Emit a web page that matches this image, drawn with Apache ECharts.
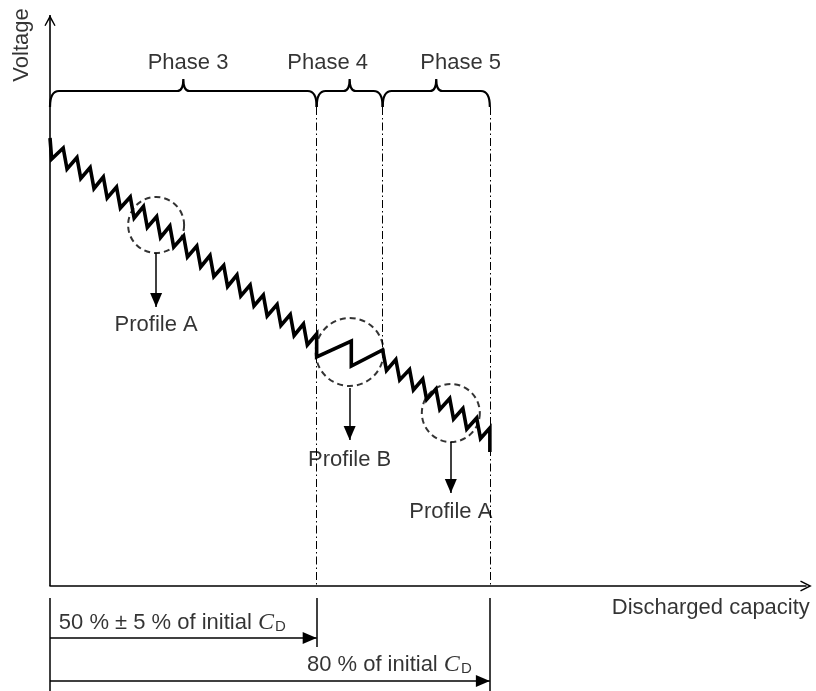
<!DOCTYPE html>
<html>
<head>
<meta charset="utf-8">
<script src="https://cdn.jsdelivr.net/npm/echarts@6/dist/echarts.min.js"></script>
<style>
html, body { margin: 0; padding: 0; background: #fff; }
#chart { width: 816px; height: 691px; }
</style>
</head>
<body>
<div id="chart"></div>
<script>
'use strict';
// x: discharged capacity (% of initial C_D), y: voltage (arbitrary units)
const phaseBounds = [0, 48.5, 60.5, 80];
const phaseNames = ['Phase 3', 'Phase 4', 'Phase 5'];
const phaseLabelX = [25.1, 50.5, 74.7];

const profile = [
    [0.0, 89.6], [0.3, 85.4], [2.4, 87.6], [3.1, 83.4], [4.9, 85.7], [5.6, 81.5],
    [7.3, 83.7], [8.0, 79.5], [9.7, 81.8], [10.4, 77.6], [12.1, 79.8], [12.8, 75.6],
    [14.6, 77.8], [15.3, 73.6], [17.0, 75.9], [17.7, 71.7], [19.4, 73.9], [20.1, 69.7],
    [21.8, 72.0], [22.5, 67.8], [24.3, 70.0], [25.0, 65.8], [26.7, 68.0], [27.4, 63.8],
    [29.1, 66.1], [29.8, 61.9], [31.6, 64.1], [32.3, 59.9], [34.0, 62.2], [34.7, 58.0],
    [36.4, 60.2], [37.1, 56.0], [38.8, 58.2], [39.5, 54.0], [41.3, 56.3], [42.0, 52.1],
    [43.7, 54.3], [44.4, 50.1], [46.1, 52.4], [46.8, 48.2], [48.5, 50.4], [48.5, 45.8],
    // phase 4
    [54.8, 49.0], [54.8, 44.0], [60.5, 47.2],
    // phase 5
    [61.2, 43.1], [62.9, 45.3], [63.6, 41.2], [65.4, 43.3], [66.1, 39.2], [67.8, 41.4],
    [68.5, 37.3], [70.2, 39.4], [70.9, 35.3], [72.7, 37.5], [73.4, 33.4], [75.1, 35.5],
    [75.8, 31.4], [77.6, 33.6], [78.3, 29.5], [80.0, 31.6], [80.0, 26.8]
];

const circleCenters = [[19.3, 72.2], [54.5, 46.8], [72.9, 34.6]];
const profileNames = ['Profile A', 'Profile B', 'Profile A'];
// [x, from, to]
const profileArrows = [[19.3, 66.6, 55.8], [54.5, 39.6, 29.2], [72.9, 28.8, 18.6]];
const profileLabelY = [52.2, 25.2, 14.8];
const capacityTexts = ['50 % \u00b1 5 % of initial {c|C}{d|D}', '80 % of initial {c|C}{d|D}'];

// layout (voltage units)
const X_MAX = 137.5;
const Y_MIN = -21;
const Y_MAX = 114.2;
const BRACE_END = 95.8;
const BRACE_FLAT = 99.0;
const BRACE_TIP = 101.4;
const PHASE_LABEL_Y = 104.6;
const circleSizes = [56, 68, 58];

const FONT = 'Liberation Sans, Arial, sans-serif';
const TRI = 'path://M14,14 L20,28 L8,28 Z M0,0 L0,0 M28,28 L28,28';
const CHEVRON_UP = 'path://M12,12 L17.6,22.4 L16.4,23 L12,15.2 L7.6,23 L6.4,22.4 Z M0,0 L0,0 M24,24 L24,24';
const CHEVRON_AXIS = 'path://M5,0 L10,10 L8.8,10.6 L5,3 L1.2,10.6 L0,10 Z';

function seg(x1, y1, x2, y2) {
    return [{ coord: [x1, y1] }, { coord: [x2, y2] }];
}

function renderBrace(params, api) {
    const x0 = api.value(0);
    const x1 = api.value(1);
    const a = api.coord([x0, BRACE_END]);
    const b = api.coord([x1, BRACE_END]);
    const m = api.coord([(x0 + x1) / 2, BRACE_TIP]);
    const yf = api.coord([x0, BRACE_FLAT])[1];
    const r = 9;
    const t = 6;
    const d = 'M' + a[0] + ',' + a[1] +
        ' Q' + a[0] + ',' + yf + ' ' + (a[0] + r) + ',' + yf +
        ' L' + (m[0] - t) + ',' + yf +
        ' Q' + m[0] + ',' + yf + ' ' + m[0] + ',' + m[1] +
        ' Q' + m[0] + ',' + yf + ' ' + (m[0] + t) + ',' + yf +
        ' L' + (b[0] - r) + ',' + yf +
        ' Q' + b[0] + ',' + yf + ' ' + b[0] + ',' + b[1];
    return {
        type: 'path',
        shape: { pathData: d },
        style: { stroke: '#000', lineWidth: 2.2, fill: 'none' }
    };
}

const notes = [];
function note(text, x, y, align, rotate) {
    notes.push({ name: text, value: [x, y], label: { align: align || 'center', rotate: rotate || 0 } });
}
note('Voltage', -5.1, 108.2, 'center', 90);
phaseNames.forEach((n, i) => note(n, phaseLabelX[i], PHASE_LABEL_Y));
profileNames.forEach((n, i) => note(n, profileArrows[i][0], profileLabelY[i]));
note('Discharged capacity', 138.2, -4.4, 'right');
note(capacityTexts[0], 1.6, -7.4, 'left');
note(capacityTexts[1], 76.7, -15.8, 'right');

const braces = [];
for (let i = 0; i < phaseNames.length; i++) {
    braces.push([phaseBounds[i], phaseBounds[i + 1]]);
}

const chart = echarts.init(document.getElementById('chart'));
chart.setOption({
    animation: false,
    backgroundColor: '#fff',
    grid: { left: 50, right: 10, top: 15, bottom: 0, outerBoundsMode: 'none' },
    xAxis: {
        type: 'value',
        min: 0,
        max: X_MAX,
        axisLine: {
            onZero: true,
            symbol: ['none', CHEVRON_AXIS],
            symbolSize: [11, 12],
            lineStyle: { color: '#000', width: 1.6 }
        },
        axisTick: { show: false },
        axisLabel: { show: false },
        splitLine: { show: false }
    },
    yAxis: {
        type: 'value',
        min: Y_MIN,
        max: Y_MAX,
        axisLine: { show: false },
        axisTick: { show: false },
        axisLabel: { show: false },
        splitLine: { show: false }
    },
    series: [
        {
            // phase boundaries and capacity marks
            type: 'line',
            data: [],
            silent: true,
            markLine: {
                silent: true,
                symbol: 'none',
                label: { show: false },
                lineStyle: { color: '#000', width: 1, type: [8, 3, 1.5, 3] },
                data: [
                    seg(phaseBounds[1], BRACE_END, phaseBounds[1], 0),
                    seg(phaseBounds[2], BRACE_END, phaseBounds[2], 47.2),
                    seg(phaseBounds[3], BRACE_END, phaseBounds[3], 0)
                ]
            }
        },
        {
            type: 'line',
            data: [],
            silent: true,
            markLine: {
                silent: true,
                symbol: 'none',
                label: { show: false },
                lineStyle: { color: '#000', width: 1.5, type: 'solid' },
                data: [
                    seg(0, -2.4, 0, Y_MIN),
                    seg(phaseBounds[1], -2.4, phaseBounds[1], -12.2),
                    seg(phaseBounds[3], -2.4, phaseBounds[3], Y_MIN)
                ]
            }
        },
        {
            // y axis with open arrow
            type: 'line',
            data: [],
            silent: true,
            markLine: {
                silent: true,
                symbol: ['none', CHEVRON_UP],
                symbolSize: 24,
                label: { show: false },
                lineStyle: { color: '#000', width: 1.6, type: 'solid' },
                data: [seg(0, 0, 0, Y_MAX)]
            }
        },
        {
            // arrows
            type: 'line',
            data: [],
            silent: true,
            markLine: {
                silent: true,
                symbol: ['none', TRI],
                symbolSize: 28,
                label: { show: false },
                lineStyle: { color: '#000', width: 1.5, type: 'solid' },
                data: profileArrows.map(a => seg(a[0], a[1], a[0], a[2])).concat([
                    seg(0, -10.4, phaseBounds[1], -10.4),
                    seg(0, -19.0, phaseBounds[3], -19.0)
                ])
            }
        },
        {
            type: 'line',
            name: 'Voltage',
            data: profile,
            showSymbol: false,
            symbol: 'none',
            silent: true,
            lineStyle: { color: '#000', width: 3.6, join: 'miter', miterLimit: 3 },
            z: 3
        },
        {
            type: 'scatter',
            data: circleCenters.map((c, i) => ({ value: c, symbolSize: circleSizes[i] })),
            symbol: 'circle',
            silent: true,
            itemStyle: { color: 'rgba(0,0,0,0)', borderColor: '#000', borderWidth: 2, borderType: [6, 4] },
            z: 4
        },
        {
            type: 'custom',
            data: braces,
            renderItem: renderBrace,
            silent: true,
            clip: false
        },
        {
            type: 'scatter',
            data: notes,
            symbolSize: 1,
            silent: true,
            clip: false,
            itemStyle: { color: 'rgba(0,0,0,0)' },
            label: {
                show: true,
                position: 'inside',
                verticalAlign: 'middle',
                formatter: '{b}',
                color: '#000',
                fontFamily: FONT,
                fontSize: 22,
                rich: {
                    c: { fontFamily: 'Liberation Serif, serif', fontStyle: 'italic', fontSize: 24, color: '#000' },
                    d: { fontFamily: FONT, fontSize: 15, color: '#000', padding: [8, 0, 0, 1] }
                }
            },
            z: 5
        }
    ]
});
window.addEventListener('resize', () => chart.resize());
</script>
</body>
</html>
